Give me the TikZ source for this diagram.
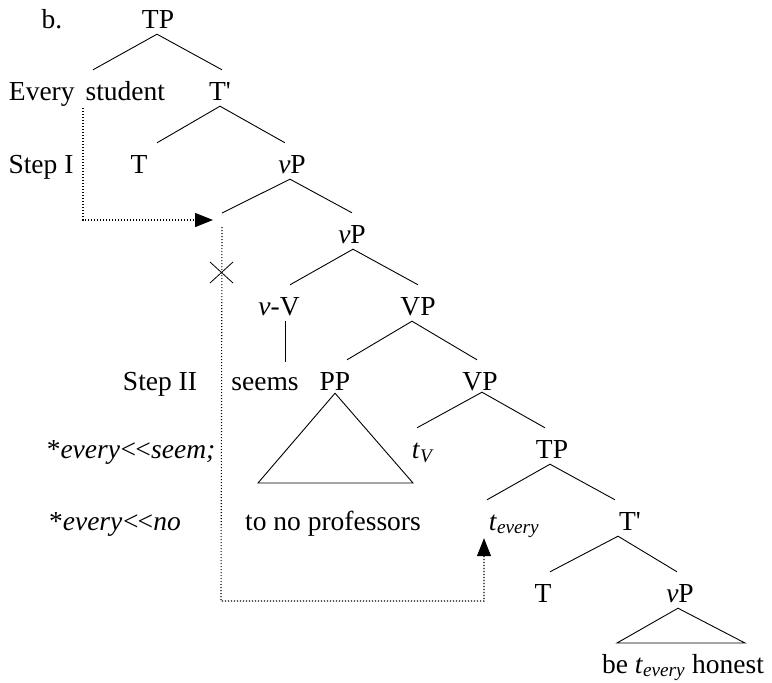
\documentclass[tikz,border=0pt]{standalone}
\usepackage{fontspec}
\setmainfont{Liberation Serif}
\usetikzlibrary{arrows.meta}
\begin{document}
\begin{tikzpicture}[x=1pt,y=-1pt,
  lbl/.style={inner sep=0pt,text height=19pt,text depth=6pt,font=\fontsize{27.5}{32}\selectfont},
  br/.style={line width=0.9pt},
  mv/.style={line width=1.1pt,dash pattern=on 1.2pt off 1.8pt},
  tipstyle/.style={-{Triangle[length=18pt,width=14pt]}}]
\useasboundingbox (0,0) rectangle (772,683);
% labels
\node[lbl] (b) at (52,21.5) {b.};
\node[lbl] (TP1) at (158,21.5) {TP};
\node[lbl] (ES) at (87,93.5) {Every\hspace{0.15em} student};
\node[lbl] (T1p) at (220,93.5) {T\textquotesingle};
\node[lbl] (StepI) at (41,166.5) {Step I};
\node[lbl] (T1) at (139,166.5) {T};
\node[lbl] (vP1) at (292,166.5) {\textit{v}P};
\coordinate (e) at (222,220);
\node[lbl] (vP2) at (352,236.5) {\textit{v}P};
\node[lbl] (vV) at (279,308.5) {\textit{v}-V};
\node[lbl] (VP1) at (418,308.5) {VP};
\node[lbl] (StepII) at (160,383.5) {Step II};
\node[lbl] (seems) at (265,383.5) {seems};
\node[lbl] (PP) at (335,383.5) {PP};
\node[lbl] (VP2) at (480,383.5) {VP};
\node[lbl] (tV) at (423,451.5) {\textit{t}\textsubscript{\textit{V}}};
\node[lbl] (TP2) at (552,451.5) {TP};
\node[lbl] (star1) at (131,451.5) {*\textit{every\kern-0.04em<\kern-0.14em<\kern-0.04em seem;}};
\node[lbl] (star2) at (115,523.5) {*\textit{every\kern-0.04em<\kern-0.14em<\kern-0.04em no}};
\node[lbl] (tnp) at (333,523.5) {to no professors};
\node[lbl] (tev) at (514,523.5) {\textit{t}\textsubscript{\textit{every}}};
\node[lbl] (T2p) at (630,523.5) {T\textquotesingle};
\node[lbl] (T2) at (543,595.5) {T};
\node[lbl] (vP3) at (680,595.5) {\textit{v}P};
\node[lbl] (bth) at (683,666.5) {be \textit{t}\textsubscript{\textit{every}} honest};
% branches
\draw[br] ([xshift=6pt,yshift=11pt]ES.north) -- ([xshift=-1pt]TP1.south) -- ([xshift=2pt,yshift=11pt]T1p.north);
\draw[br] ([xshift=18pt,yshift=11pt]T1.north) -- (T1p.south) -- ([xshift=-7pt,yshift=11pt]vP1.north);
\draw[br] ([yshift=7pt]e) -- ([xshift=-2pt]vP1.south) -- ([yshift=11pt]vP2.north);
\draw[br] ([xshift=11pt,yshift=11pt]vV.north) -- ([xshift=1pt]vP2.south) -- ([yshift=11pt]VP1.north);
\draw[br] ([xshift=6pt]vV.south) -- ([xshift=20pt,yshift=9pt]seems.north);
\draw[br] ([xshift=12pt,yshift=11pt]PP.north) -- ([xshift=-6pt]VP1.south) -- ([xshift=-3pt,yshift=11pt]VP2.north);
\draw[br] ([xshift=-6pt,yshift=11pt]tV.north) -- ([xshift=2pt,yshift=4pt]VP2.south) -- ([xshift=-7pt,yshift=11pt]TP2.north);
\draw[br] ([xshift=-27pt,yshift=11pt]tev.north) -- ([xshift=-2pt]TP2.south) -- ([xshift=-15pt,yshift=11pt]T2p.north);
\draw[br] ([xshift=7pt,yshift=11pt]T2.north) -- ([xshift=-12pt]T2p.south) -- ([xshift=-3pt,yshift=11pt]vP3.north);
% triangles
\coordinate (PPl) at (258,483);
\coordinate (PPr) at (413,483);
\draw[br] ([yshift=3pt]PP.south) -- (PPl) -- (PPr) -- cycle;
\coordinate (vPl) at (617,643);
\coordinate (vPr) at (745,643);
\draw[br] ([xshift=-2pt]vP3.south) -- (vPl) -- (vPr) -- cycle;
% movement paths
\draw[mv,tipstyle] ([xshift=-4pt,yshift=-2pt]ES.south) |- ([xshift=-9pt]e);
\coordinate (lc) at (221,601);
\draw[mv,tipstyle] ([yshift=-7pt]e) -- (lc) -| ([xshift=-30pt,yshift=-2pt]tev.south);
% cross
\draw[line width=0.8pt] (210,262) -- (233,283) (210,283) -- (233,262);
\end{tikzpicture}
\end{document}
